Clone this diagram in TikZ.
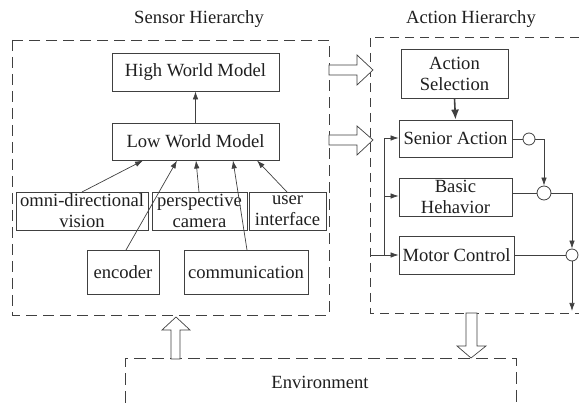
\documentclass[tikz,border=0pt]{standalone}
\usepackage{fontspec}
\setmainfont{Liberation Serif}
\usetikzlibrary{arrows.meta}
\newcommand{\bigfs}{\rmfamily\fontsize{18.6}{21}\selectfont}
\definecolor{linec}{gray}{0.25}
\definecolor{textc}{gray}{0.12}
\begin{document}
\begin{tikzpicture}[x=1pt,y=-1pt,
  every node/.style={text=textc},
  box/.style={draw=linec, line width=0.8pt, rectangle, inner sep=1pt, align=center, font=\bigfs},
  conn/.style={draw=linec, line width=0.7pt},
  arr/.style={conn, -{Latex[length=8pt,width=5.5pt]}},
  bigarr/.style={draw=linec, line width=1.6pt, -{Latex[length=10pt,width=8pt]}},
  hollow/.style={draw=linec, line width=0.7pt, fill=white},
  dbox/.style={draw=linec, line width=0.8pt, dash pattern=on #1pt off 6pt},
  junc/.style={draw=linec, line width=0.8pt, circle, fill=white, inner sep=0pt, minimum size=#1pt},
  title/.style={font=\bigfs}
]
\useasboundingbox (0,0) rectangle (579,403);

% titles
\node[title] (tsens) at (199,19) {Sensor Hierarchy};
\node[title] (tact) at (471,19) {Action Hierarchy};

% dashed containers
\draw[dbox=11] (12,40) rectangle (329,315);
\draw[dbox=9] (579,37) -- (370,37) -- (370,313) -- (579,313);
\draw[dbox=12] (125,403) -- (125,358) -- (516,358) -- (516,403);
\node[font=\bigfs] (env) at (320,382) {Environment};

% sensor side
\node[box, minimum width=167pt, minimum height=38pt] (high) at (195.5,72) {High World Model};
\node[box, minimum width=167pt, minimum height=37pt] (low) at (195.5,141.5) {Low World Model};
\node[box, minimum width=132pt, minimum height=38pt] (omni) at (82,211) {omni-directional\\vision};
\node[box, minimum width=95pt, minimum height=38pt] (persp) at (199.5,211) {perspective\\camera};
\node[box, minimum width=77pt, minimum height=38pt] (user) at (287.5,211) {user\\interface};
\node[box, minimum width=72pt, minimum height=44pt] (enc) at (123,272) {encoder};
\node[box, minimum width=124pt, minimum height=44pt] (comm) at (246,272) {communication};

\draw[arr] (low.north) -- (high.south);
\draw[arr] (82,192) -- (143,160.5);
\draw[arr] (126,250) -- (177,160.5);
\draw[arr] (199,192) -- (196,160.5);
\draw[arr] (247,250) -- (233,160.5);
\draw[arr] (287,192) -- (257,160.5);

% action side
\node[box, minimum width=107pt, minimum height=49pt] (sel) at (454.5,73.5) {Action\\Selection};
\node[box, minimum width=113pt, minimum height=37pt] (senior) at (455.5,138.5) {Senior Action};
\node[box, minimum width=113pt, minimum height=38pt] (basic) at (455.5,197) {Basic\\Hehavior};
\node[box, minimum width=115pt, minimum height=38pt] (motor) at (456.5,255) {Motor Control};

\draw[bigarr] (sel.south) -- (senior.north);

\node[junc=12] (c1) at (529,139) {};
\node[junc=14] (c2) at (544,193) {};
\node[junc=12] (c3) at (572,255) {};
\coordinate (out) at (572,311);
\coordinate (fbin) at (370,255);
\coordinate (fbtop) at (384,138);
\coordinate (fbmid) at (384,196);
\coordinate (fbbot) at (384,255);

\draw[conn] (senior.east |- c1) -- (c1.west);
\draw[arr] (c1.east) -| (c2.north);
\draw[conn] (basic.east |- c2) -- (c2.west);
\draw[arr] (c2.east) -| (c3.north);
\draw[conn] (motor.east) -- (c3.west);
\draw[arr] (c3.south) -- (out);

\draw[arr] (fbin) -- (motor.west);
\draw[conn] (fbbot) -- (fbtop);
\draw[arr] (fbtop) -- (senior.west |- fbtop);
\draw[arr] (fbmid) -- (basic.west |- fbmid);

% hollow block arrows
\draw[hollow] (329,65) -- (357,65) -- (357,55) -- (373,70) -- (357,85) -- (357,75) -- (329,75) -- cycle;
\draw[hollow] (329,135) -- (357,135) -- (357,126) -- (373,140) -- (357,155) -- (357,145) -- (329,145) -- cycle;
\draw[hollow] (171,359) -- (171,330) -- (162,330) -- (176,317) -- (190,330) -- (180,330) -- (180,359) -- cycle;
\draw[hollow] (466,313) -- (466,346) -- (457,346) -- (471,358) -- (486,346) -- (477,346) -- (477,313) -- cycle;
\end{tikzpicture}
\end{document}
